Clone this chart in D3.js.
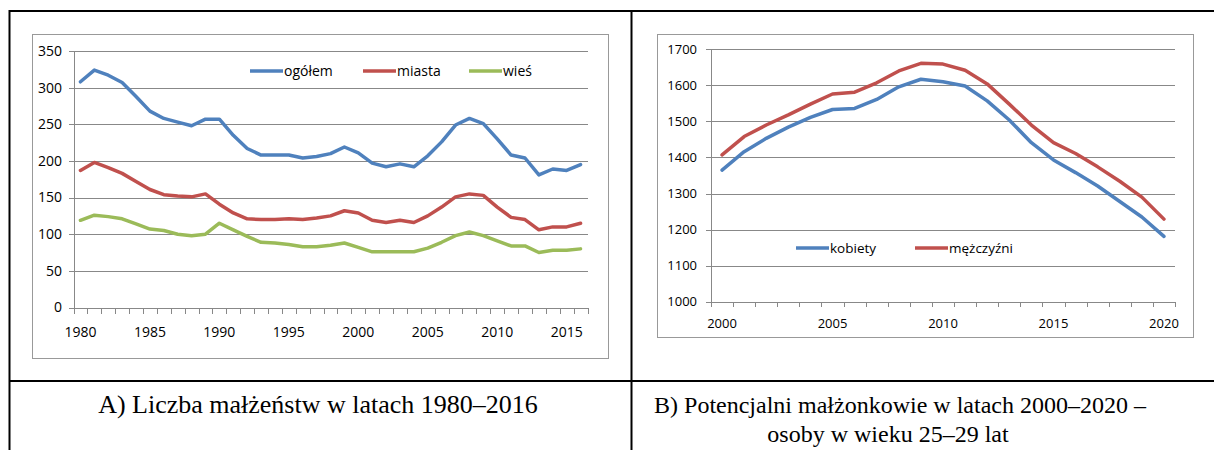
<!doctype html>
<html lang="pl">
<head>
  <meta charset="UTF-8" />
  <script src="https://cdn.jsdelivr.net/npm/d3@7"></script>
  <style>
    body { margin: 0; background: white; }
    .grid line { stroke: #888; stroke-width: 1; shape-rendering: crispEdges; }
    .frame { fill: white; stroke: #999; stroke-width: 1; shape-rendering: crispEdges; }
    .axis text, .legend text { font-family: "Open Sans", sans-serif; fill: #000; }
    .series { fill: none; stroke-width: 3.5; stroke-linejoin: round; stroke-linecap: round; }
    .table line { stroke: #000; stroke-width: 2; }
    .caption { font-family: "Liberation Serif", serif; font-size: 26px; fill: #000; text-anchor: middle; }
    .caption.b { font-size: 24px; }
  </style>
  <title>Małżeństwa</title>
</head>
<body>
  <script>
    // A) liczba małżeństw (tys.)
    var yearsA = d3.range(1980, 2017);
    var ogolem = [308, 324, 317, 307, 288, 268, 258, 253, 248, 257, 257, 235, 217, 208, 208, 208, 204, 206, 210, 219,
      211, 197, 192, 196, 192, 207, 226, 249, 258, 251, 230, 208, 204, 181, 189, 187, 195];
    var miasta = [187, 198, 191, 183, 172, 161, 154, 152, 151, 155, 141, 129, 121, 120, 120, 121, 120, 122, 125, 132,
      129, 119, 116, 119, 116, 125, 137, 151, 155, 153, 137, 123, 120, 106, 110, 110, 115];
    var wies = [119, 126, 124, 121, 114, 107, 105, 100, 98, 100, 115, 106, 97, 89, 88, 86, 83, 83, 85, 88,
      82, 76, 76, 76, 76, 81, 89, 98, 103, 98, 91, 84, 84, 75, 78, 78, 80];
    var ticksA = [0, 50, 100, 150, 200, 250, 300, 350];
    var namesA = ["ogółem", "miasta", "wieś"];

    // B) potencjalni małżonkowie 25-29 lat (tys.)
    var yearsB = d3.range(2000, 2021);
    var kobiety = [1365, 1416, 1453, 1484, 1511, 1533, 1536, 1561, 1596, 1617, 1610, 1598, 1557, 1504, 1441, 1393,
      1358, 1321, 1278, 1235, 1181];
    var mezczyzni = [1407, 1458, 1490, 1518, 1548, 1576, 1581, 1607, 1640, 1661, 1659, 1642, 1604, 1548, 1490, 1441,
      1411, 1374, 1334, 1290, 1229];
    var ticksB = [1000, 1100, 1200, 1300, 1400, 1500, 1600, 1700];
    var namesB = ["kobiety", "mężczyźni"];

    var colors = ["#4F81BD", "#C0504D", "#9BBB59"];

    var svg = d3.select("body").append("svg")
      .attr("width", 1214).attr("height", 450);

    function drawChart(cfg) {
      var g = svg.append("g");
      g.append("rect").attr("class", "frame")
        .attr("x", cfg.frame[0] + 0.5).attr("y", cfg.frame[1] + 0.5)
        .attr("width", cfg.frame[2]).attr("height", cfg.frame[3]);

      var x = d3.scaleBand().domain(cfg.years).range(cfg.xr);
      var y = d3.scaleLinear().domain(cfg.yd).range(cfg.yr);
      var bw = x.bandwidth();
      var x0 = cfg.xr[0], x1 = cfg.xr[1];

      // gridlines + y axis
      var grid = g.append("g").attr("class", "grid");
      grid.selectAll(".h").data(cfg.ticks).enter().append("line")
        .attr("x1", x0 - 5).attr("x2", x1)
        .attr("y1", function (d) { return Math.round(y(d)) + 0.5; })
        .attr("y2", function (d) { return Math.round(y(d)) + 0.5; });
      grid.append("line")
        .attr("x1", Math.round(x0) + 0.5).attr("x2", Math.round(x0) + 0.5)
        .attr("y1", y(cfg.yd[1])).attr("y2", y(cfg.yd[0]));
      // x ticks on category boundaries
      var bounds = cfg.years.map(function (d) { return x(d); }).concat([x1]);
      grid.selectAll(".t").data(bounds).enter().append("line")
        .attr("x1", function (d) { return Math.round(d) + 0.5; })
        .attr("x2", function (d) { return Math.round(d) + 0.5; })
        .attr("y1", y(cfg.yd[0])).attr("y2", y(cfg.yd[0]) + cfg.tickLen);

      var ax = g.append("g").attr("class", "axis").style("font-size", cfg.font + "px");
      ax.selectAll(".yl").data(cfg.ticks).enter().append("text")
        .attr("x", cfg.ylx).attr("y", function (d) { return y(d); })
        .attr("dy", "0.35em").attr("text-anchor", "end")
        .text(function (d) { return d; });
      ax.selectAll(".xl").data(cfg.years.filter(function (d) { return d % 5 == 0; }))
        .enter().append("text")
        .attr("x", function (d) { return x(d) + bw / 2; })
        .attr("y", cfg.xly).attr("text-anchor", "middle")
        .text(function (d) { return d; });

      var line = d3.line()
        .x(function (d, i) { return x(cfg.years[i]) + bw / 2; })
        .y(function (d) { return y(d); });
      g.selectAll(".series").data(cfg.series).enter().append("path")
        .attr("class", "series")
        .attr("stroke", function (d, i) { return colors[i]; })
        .attr("d", line);

      var leg = g.append("g").attr("class", "legend").style("font-size", cfg.legFont + "px");
      cfg.names.forEach(function (n, i) {
        var lx = cfg.legX[i];
        leg.append("line").attr("x1", lx).attr("x2", lx + 33)
          .attr("y1", cfg.legY).attr("y2", cfg.legY)
          .attr("stroke", colors[i]).attr("stroke-width", 3.5);
        leg.append("text").attr("x", lx + 34).attr("y", cfg.legY)
          .attr("dy", "0.35em").text(n);
      });
    }

    drawChart({
      frame: [32, 34, 576, 324], years: yearsA, xr: [73.5, 587.5],
      yd: [0, 350], yr: [307.5, 51], ticks: ticksA,
      series: [ogolem, miasta, wies], names: namesA,
      font: 14, ylx: 62, xly: 337, tickLen: 6,
      legFont: 14, legX: [250, 363, 469], legY: 71
    });

    drawChart({
      frame: [657, 34, 536, 303], years: yearsB, xr: [711, 1175],
      yd: [1000, 1700], yr: [301.7, 49.3], ticks: ticksB,
      series: [kobiety, mezczyzni], names: namesB,
      font: 13, ylx: 697, xly: 328, tickLen: 5,
      legFont: 13.5, legX: [796, 915], legY: 248
    });

    // table frame
    var tbl = svg.append("g").attr("class", "table");
    tbl.append("line").attr("x1", 9).attr("x2", 1214).attr("y1", 11).attr("y2", 11);
    tbl.append("line").attr("x1", 9.5).attr("x2", 9.5).attr("y1", 10).attr("y2", 450);
    tbl.append("line").attr("x1", 631.5).attr("x2", 631.5).attr("y1", 10).attr("y2", 450);
    tbl.append("line").attr("x1", 9).attr("x2", 1214).attr("y1", 381).attr("y2", 381);

    svg.append("text").attr("class", "caption").attr("x", 318).attr("y", 413)
      .text("A) Liczba małżeństw w latach 1980–2016");
    svg.append("text").attr("class", "caption b").attr("x", 900).attr("y", 413)
      .text("B) Potencjalni małżonkowie w latach 2000–2020 –");
    svg.append("text").attr("class", "caption b").attr("x", 888).attr("y", 442)
      .text("osoby w wieku 25–29 lat");
  </script>
</body>
</html>
